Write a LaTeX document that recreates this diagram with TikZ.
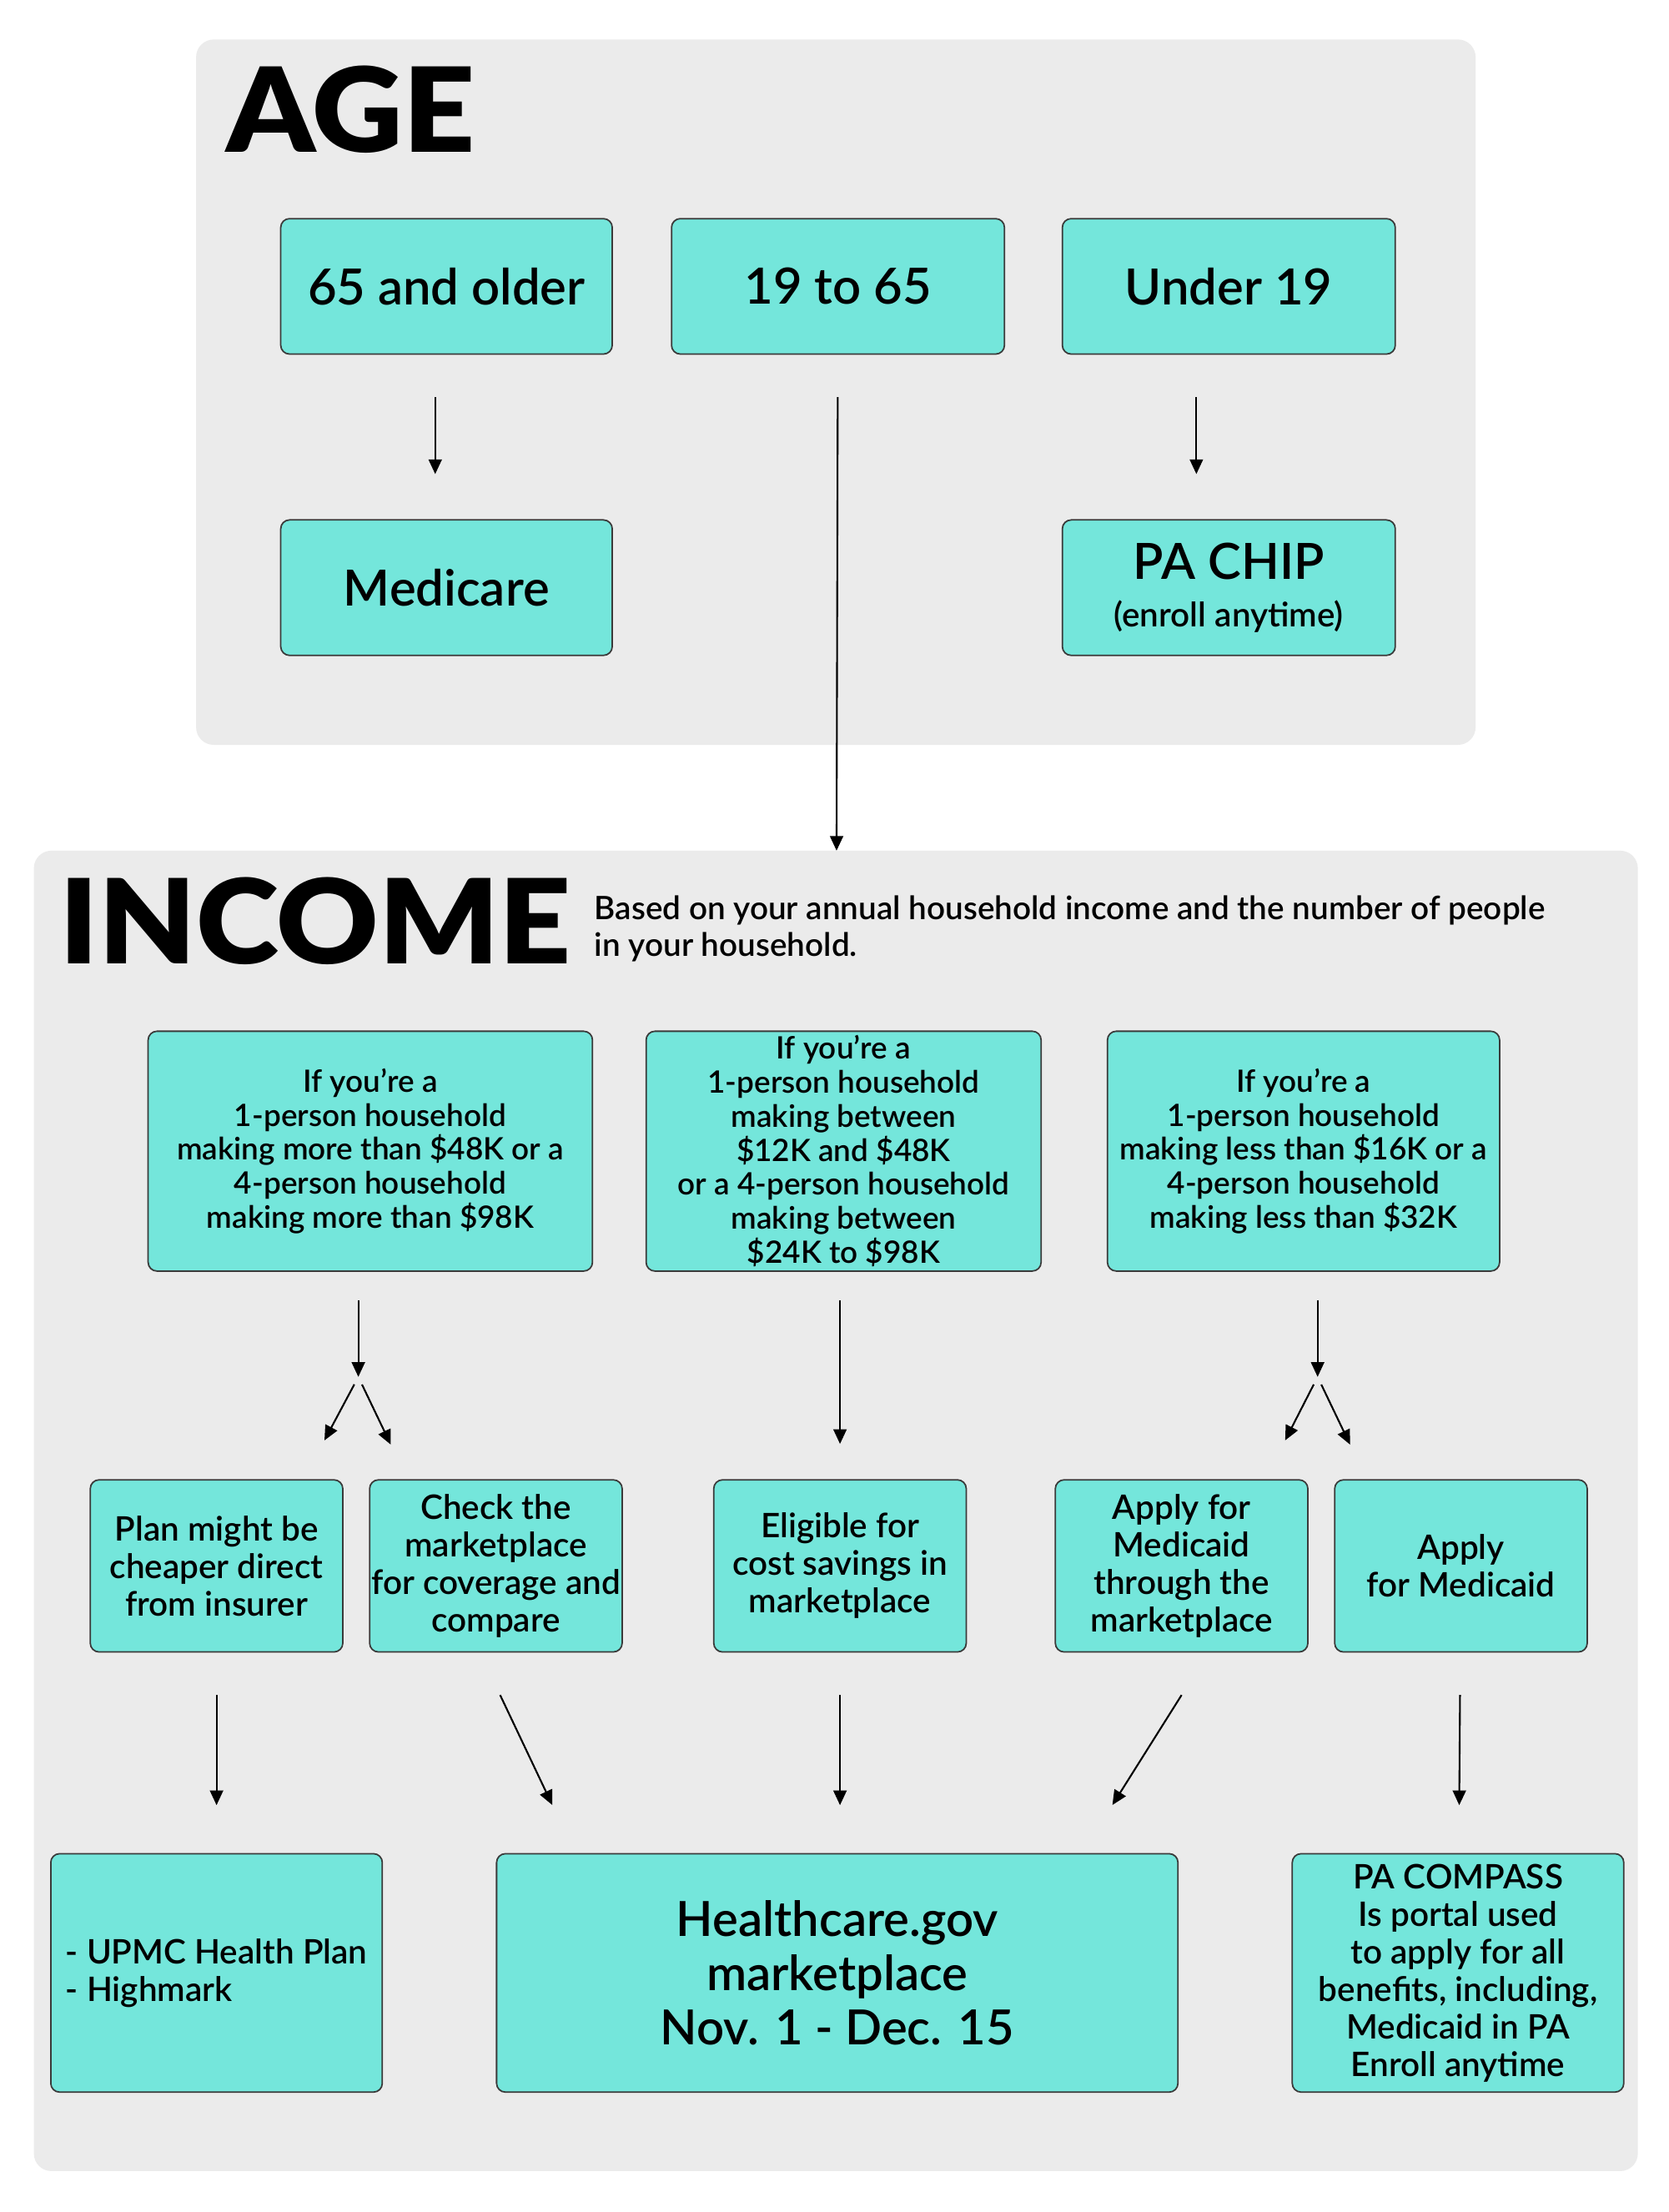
\documentclass[tikz,border=0pt]{standalone}
\usepackage{fontspec}
\setmainfont{Lato Semibold}
\newfontfamily\headfont{Lato Black}[FakeStretch=1.07]
\usetikzlibrary{positioning,calc}
\usetikzlibrary{arrows.meta}
\definecolor{boxteal}{HTML}{74E6DB}
\definecolor{panelgray}{HTML}{EBEBEB}
\definecolor{boxline}{HTML}{3A3A3A}
\newcommand{\agefont}{\fontsize{17}{16}\selectfont}
\newcommand{\incfont}{\fontsize{10.5}{11.6}\selectfont}
\newcommand{\stepfont}{\fontsize{11.5}{12.8}\selectfont}
\newcommand{\bigfont}{\fontsize{16.5}{18.5}\selectfont}
\tikzset{
  sized/.style 2 args={minimum width=#1*0.0169cm, minimum height=#2*0.0169cm},
  choice/.style={draw=boxline, line width=0.5pt, fill=boxteal, rounded corners=3pt, align=center, inner sep=0pt},
  arr/.style={-{Triangle[length=5pt,width=4.5pt]}, line width=0.6pt},
  heading/.style={font=\headfont\fontsize{40}{40}\selectfont, inner sep=0pt},
}

\begin{document}
\begin{tikzpicture}[x=0.0169cm, y=-0.0169cm]
      \useasboundingbox (0,0) rectangle (1183,1568);
      \fill[panelgray, rounded corners=6pt] (139,28) rectangle (1046,528);
      \fill[panelgray, rounded corners=6pt] (24,603) rectangle (1161,1539);

      \node[heading, anchor=base west] (age) at (160,108) {AGE};
      \node[heading, anchor=base west] (income) at (42,683) {INCOME};
      \node[anchor=base west, inner sep=0pt, align=left, font=\fontsize{11}{12.5}\selectfont] (basis) at (421,678)
         {Based on your annual household income and the number of people\\in your household.};

      \node[choice, sized={235}{96}, font=\agefont] (old) at (316.5,203) {65 and older};
      \node[choice, sized={236}{96}, font=\agefont, right=0.693cm of old] (mid) {19 to 65};
      \node[choice, sized={236}{96}, font=\agefont, right=0.676cm of mid] (young) {Under 19};
      \node[choice, sized={235}{96}, font=\agefont, below=1.97cm of old] (medicare) {Medicare};
      \node[choice, sized={236}{96}, font=\agefont, below=1.97cm of young] (chip)
         {PA CHIP\\{\fontsize{11.5}{14}\selectfont (enroll anytime)}};
      \coordinate (incometop) at (593,603);

      \node[choice, sized={315}{170}, font=\incfont] (richer) at (262.5,816)
         {If you’re a\\1-person household\\making more than \$48K or a\\4-person household\\making more than \$98K};
      \node[choice, sized={280}{170}, font=\incfont, right=0.625cm of richer] (middle)
         {If you’re a\\1-person household\\making between\\\$12K and \$48K\\or a 4-person household\\making between\\\$24K to \$98K};
      \node[choice, sized={278}{170}, font=\incfont, right=0.777cm of middle] (lower)
         {If you’re a\\1-person household\\making less than \$16K or a\\4-person household\\making less than \$32K};

      \coordinate (forkL) at (254,976);
      \coordinate (forkLa) at (230,1021);
      \coordinate (forkLb) at (277,1024);
      \coordinate (forkR) at (934,976);
      \coordinate (forkRa) at (911,1021);
      \coordinate (forkRb) at (957,1024);

      \node[choice, sized={179}{122}, font=\stepfont] (direct) at (153.5,1110) {Plan might be\\cheaper direct\\from insurer};
      \node[choice, sized={179}{122}, font=\stepfont, right=0.304cm of direct] (compare) {Check the\\marketplace\\for coverage and\\compare};
      \node[choice, sized={179}{122}, font=\stepfont, right=1.08cm of compare] (savings) {Eligible for\\cost savings in\\marketplace};
      \node[choice, sized={179}{122}, font=\stepfont, right=1.05cm of savings] (throughmkt) {Apply for\\Medicaid\\through the\\marketplace};
      \node[choice, sized={179}{122}, font=\stepfont, right=0.304cm of throughmkt] (medicaid) {Apply\\for Medicaid};

      \node[choice, sized={235}{169}, font=\stepfont, align=left] (insurers) at (153.5,1398.5) {- UPMC Health Plan\\- Highmark};
      \node[choice, sized={483}{169}, font=\bigfont, right=1.352cm of insurers] (healthgov) {Healthcare.gov\\marketplace\\Nov. 1 - Dec. 15};
      \node[choice, sized={235}{169}, font=\stepfont, right=1.352cm of healthgov] (compass)
         {PA COMPASS\\Is portal used\\to apply for all\\benefits, including,\\Medicaid in PA\\Enroll anytime};

      \draw[arr] ($(old.south)+(-8,30)$) -- ($(medicare.north)+(-8,-32)$);
      \draw[arr] ($(young.south)+(-23,30)$) -- ($(chip.north)+(-23,-32)$);
      \draw[arr, shorten <=14.4pt] (mid) -- (incometop);

      \draw[arr, shorten <=9.6pt] (richer.south -| forkL) -- (forkL);
      \draw[arr, shorten <=2.9pt] (forkL) -- (forkLa);
      \draw[arr, shorten <=2.9pt] (forkL) -- (forkLb);
      \draw[arr, shorten <=9.6pt, shorten >=12pt] (middle.south -| savings.north) -- (savings.north);
      \draw[arr, shorten <=9.6pt] (lower.south -| forkR) -- (forkR);
      \draw[arr, shorten <=2.9pt] (forkR) -- (forkRa);
      \draw[arr, shorten <=2.9pt] (forkR) -- (forkRb);

      \draw[arr, shorten <=14.4pt, shorten >=16.3pt] (direct) -- (insurers);
      \draw[arr] ($(compare.south)+(3,30)$) -- ($(healthgov.north west)+(40,-34)$);
      \draw[arr, shorten <=14.4pt, shorten >=16.3pt] (savings.south) -- (savings.south |- healthgov.north);
      \draw[arr] ($(throughmkt.south)+(0,30)$) -- ($(healthgov.north east)+(-47,-34)$);
      \draw[arr, shorten <=14.4pt, shorten >=16.3pt] (medicaid) -- (compass);
\end{tikzpicture}
\end{document}
